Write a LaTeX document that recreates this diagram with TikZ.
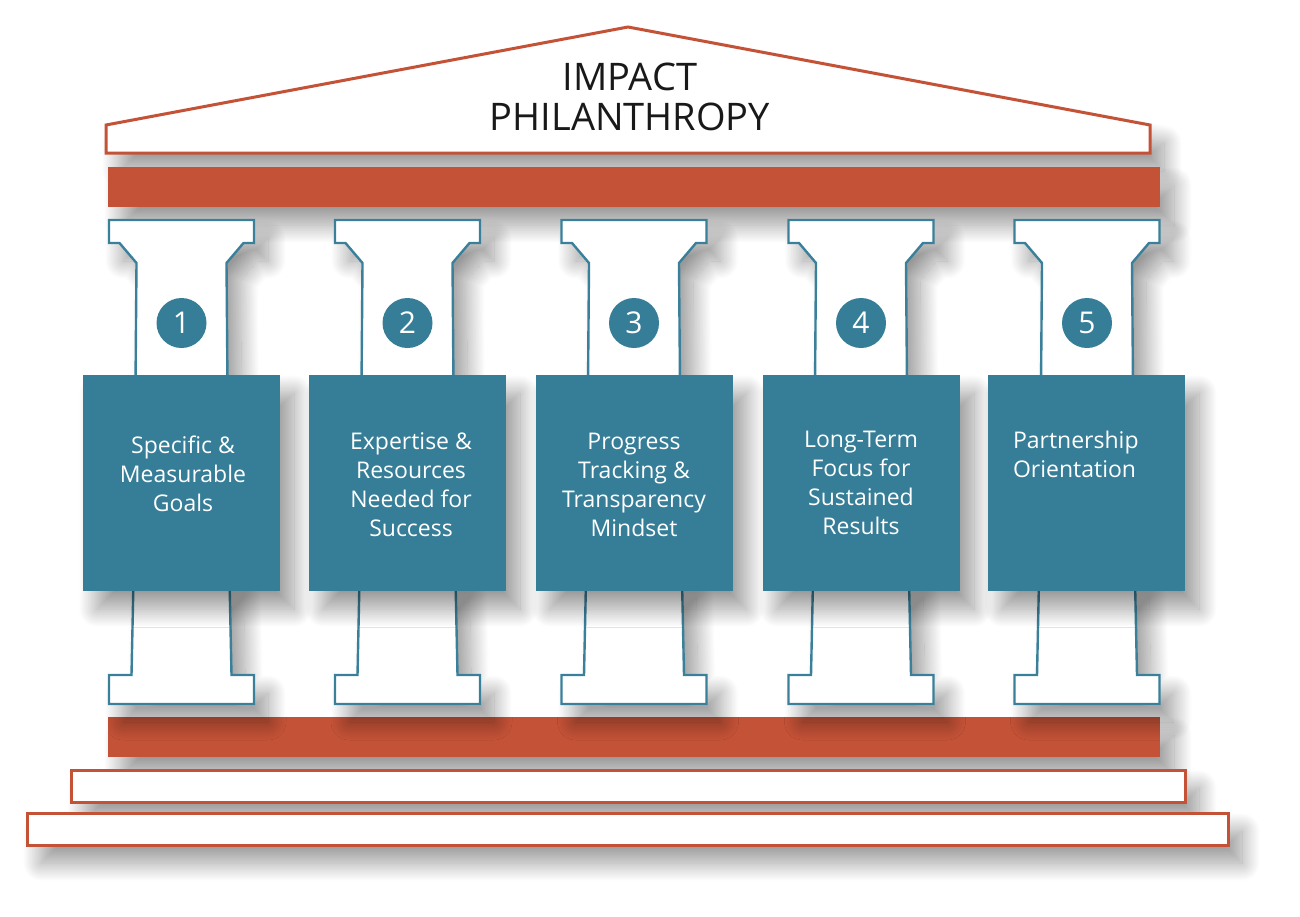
\documentclass[tikz,border=0pt]{standalone}
\usepackage{fontspec}
\setmainfont{Open Sans}
\usetikzlibrary{shadows.blur}
\definecolor{ImpactBrick}{RGB}{196,82,55}
\definecolor{ImpactTeal}{RGB}{54,125,151}
\definecolor{ImpactLine}{RGB}{58,128,155}
\colorlet{brick}{ImpactBrick}
\colorlet{tealbox}{ImpactTeal}
\tikzset{
  soft/.style={blur shadow={shadow xshift=7pt,shadow yshift=-9pt,
               shadow blur radius=9pt,shadow blur steps=30,shadow opacity=40}},
  roofline/.style={draw=brick,fill=white,line width=1.5pt,line join=miter,soft},
  beam/.style={fill=brick,soft},
  stair/.style={draw=brick,fill=white,line width=1.5pt,soft},
  shaft/.style={draw=ImpactLine,fill=white,line width=1.2pt,soft},
  panel/.style={fill=tealbox,minimum width=98.5pt,minimum height=108pt,
                inner sep=0pt,soft},
  badge/.style={circle,fill=tealbox,text=white,minimum size=25pt,inner sep=0pt,
                font=\fontsize{15}{18}\selectfont},
  title/.style={font=\fontsize{19}{20}\selectfont,align=center,text=black!90},
  txtc/.style={text=white,font=\fontsize{11.5}{14.5}\selectfont,align=center},
  txtl/.style={text=white,font=\fontsize{11.5}{14.5}\selectfont,align=left,anchor=west},
}
\begin{document}
\begin{tikzpicture}[x=0.5pt,y=-0.5pt]
  \useasboundingbox (0,0) rectangle (1300,916);
  % roof and beams
  \draw[roofline] (106,125) -- (628,27) -- (1150,125) -- (1150,153) -- (106,153) -- cycle;
  \node[title] (title) at (630,97) {IMPACT\\PHILANTHROPY};
  \fill[beam] (108,167) rectangle (1160,207);
  \fill[beam] (108,717) rectangle (1160,757);
  \draw[stair] (71,770) rectangle (1185,802);
  \draw[stair] (27,813) rectangle (1228,845);
  % columns
  \foreach \i/\c in {1/181.5,2/407.5,3/634,4/861,5/1087} {
    \draw[shaft] (\c-72.5,220) -- (\c+72.5,220) -- (\c+72.5,243) -- (\c+62,243)
      -- (\c+45,263) -- (\c+46,385) -- (\c-46,385) -- (\c-45,263) -- (\c-62,243)
      -- (\c-72.5,243) -- cycle;
    \draw[shaft] (\c-48,580) -- (\c-50,675) -- (\c-72.5,675) -- (\c-72.5,704)
      -- (\c+72.5,704) -- (\c+72.5,675) -- (\c+50,675) -- (\c+48,580) -- cycle;
    \node[badge] (n\i) at (\c,323) {\i};
  }
  % panels with text
  \foreach \i/\c/\tx/\ty/\s/\t in {
      1/181.5/183/474/txtc/{Specific \&\\Measurable\\Goals},
      2/407.5/411/485/txtc/{Expertise \&\\Resources\\Needed for\\Success},
      3/634/634/485/txtc/{Progress\\Tracking \&\\Transparency\\Mindset},
      4/861.5/861/483/txtc/{Long-Term\\Focus for\\Sustained\\Results},
      5/1086.5/1006/454/txtl/{Partnership\\Orientation}} {
    \node[panel] (p\i) at (\c,483) {};
    \node[\s] (t\i) at (\tx,\ty) {\t};
  }
\end{tikzpicture}
\end{document}
